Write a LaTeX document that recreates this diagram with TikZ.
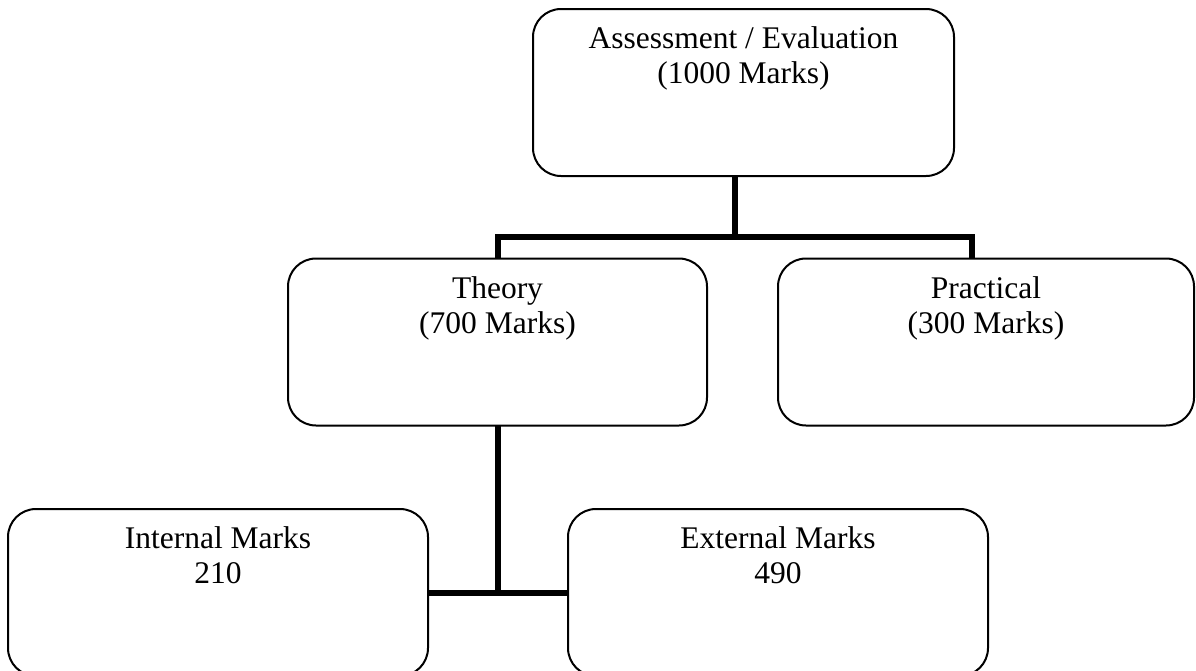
\documentclass[tikz,border=0pt]{standalone}
\usepackage{fontspec}
\setmainfont{Liberation Serif}
\newcommand{\boxtext}[3]{\parbox[c][#1][t]{400pt}{\centering\fontsize{31.5pt}{35pt}\selectfont\rule{0pt}{39.5pt}#2\\#3}}
\tikzset{
  stage/.style={draw=black, line width=2pt, rounded corners=28pt, inner sep=0pt, outer sep=0pt,
    minimum height=167pt, fill=white},
  conn/.style={draw=black, line width=5.5pt, line join=miter}
}
\begin{document}
\begin{tikzpicture}[x=1pt,y=-1pt]
\path[use as bounding box, clip] (0,0) rectangle (1196,670);
\fill[white] (0,0) rectangle (1196,670);
\node[stage, minimum width=421pt] (top) at (743.5,92.5) {\boxtext{167pt}{Assessment / Evaluation}{(1000 Marks)}};
\node[stage, minimum width=419pt] (theory) at (497.5,342) {\boxtext{167pt}{Theory}{(700 Marks)}};
\node[stage, minimum width=416pt] (practical) at (986,342) {\boxtext{167pt}{Practical}{(300 Marks)}};
\node[stage, minimum width=420pt] (internal) at (218,592.5) {\boxtext{167pt}{Internal Marks}{210}};
\node[stage, minimum width=420pt] (external) at (778,592.5) {\boxtext{167pt}{External Marks}{490}};
\coordinate (j1) at (735,237);
\coordinate (jL) at (498,237);
\coordinate (jR) at (972,237);
\coordinate (j2) at (498,593);
\draw[conn] (top.south -| j1) -- (j1);
\draw[conn] (theory.north -| jL) -- (jL) -- (jR) -- (practical.north -| jR);
\draw[conn] (theory.south -| j2) -- (j2);
\draw[conn] (internal.east |- j2) -- (external.west |- j2);
\end{tikzpicture}
\end{document}
